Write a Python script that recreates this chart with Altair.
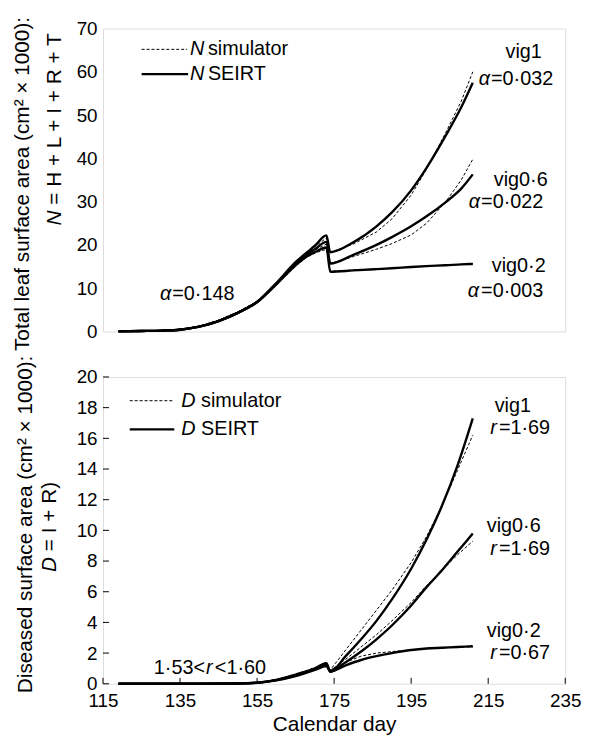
import altair as alt
import pandas as pd

FONT = "Liberation Sans"

# ---------------- top panel: total leaf surface area N (cm2 x 1000) ----------------
N_DAYS_PRE = [119, 125, 130, 135, 140, 145, 150, 155, 160, 165, 168, 170, 173]
N_SEIRT_VIG1_PRE = [0.0, 0.1, 0.2, 0.4, 1.1, 2.4, 4.3, 6.8, 11.2, 16.0, 18.3, 19.8, 22.2]
N_SEIRT_VIG06_PRE = [0.0, 0.1, 0.2, 0.4, 1.1, 2.4, 4.3, 6.8, 11.0, 15.6, 17.8, 19.0, 20.7]
N_SEIRT_VIG02_PRE = [0.0, 0.1, 0.2, 0.4, 1.1, 2.4, 4.3, 6.8, 10.9, 15.3, 17.4, 18.3, 19.4]
N_SIM_VIG1_PRE = [0.0, 0.1, 0.2, 0.5, 1.2, 2.6, 4.5, 6.9, 11.0, 15.8, 18.0, 19.6, 21.6]
N_SIM_VIG06_PRE = [0.0, 0.1, 0.2, 0.5, 1.2, 2.6, 4.5, 6.9, 10.9, 15.4, 17.6, 18.8, 20.2]
N_SIM_VIG02_PRE = [0.0, 0.1, 0.2, 0.5, 1.2, 2.6, 4.5, 6.9, 10.8, 15.1, 17.2, 18.1, 19.0]

N_DAYS_POST = [174, 180, 186, 190, 195, 199, 204, 208, 211]
N_SEIRT_VIG1_POST = [18.3, 20.6, 24.3, 27.5, 32.6, 37.8, 45.3, 51.8, 57.5]
N_SIM_VIG1_POST = [18.3, 20.2, 23.0, 26.0, 31.5, 37.5, 46.0, 53.2, 60.0]
N_SEIRT_VIG06_POST = [15.7, 17.7, 20.0, 21.8, 24.3, 26.6, 29.9, 33.0, 36.3]
N_SIM_VIG06_POST = [15.7, 17.3, 19.0, 20.3, 22.3, 25.0, 30.0, 35.0, 39.8]
N_SEIRT_VIG02_POST = [13.8, 14.1, 14.4, 14.6, 14.9, 15.1, 15.3, 15.5, 15.6]
N_SIM_VIG02_POST = [13.9, 14.2, 14.4, 14.6, 14.9, 15.1, 15.3, 15.5, 15.7]

# ---------------- bottom panel: diseased surface area D (cm2 x 1000) ----------------
D_DAYS_PRE = [119, 130, 140, 150, 155, 160, 165, 170, 173]
D_SEIRT_VIG1_PRE = [0.0, 0.0, 0.0, 0.02, 0.07, 0.25, 0.6, 1.0, 1.35]
D_SEIRT_VIG06_PRE = [0.0, 0.0, 0.0, 0.02, 0.07, 0.24, 0.55, 0.95, 1.25]
D_SEIRT_VIG02_PRE = [0.0, 0.0, 0.0, 0.02, 0.06, 0.22, 0.5, 0.9, 1.15]
D_SIM_VIG1_PRE = [0.0, 0.0, 0.0, 0.02, 0.08, 0.27, 0.62, 1.05, 1.4]
D_SIM_VIG06_PRE = [0.0, 0.0, 0.0, 0.02, 0.08, 0.26, 0.58, 0.98, 1.3]
D_SIM_VIG02_PRE = [0.0, 0.0, 0.0, 0.02, 0.07, 0.24, 0.54, 0.93, 1.2]

D_DAYS_POST = [174, 178, 182, 186, 190, 195, 199, 203, 207, 211]
D_SEIRT_VIG1_POST = [0.8, 1.8, 2.9, 4.1, 5.5, 7.5, 9.4, 11.6, 14.2, 17.3]
D_SIM_VIG1_POST = [0.9, 2.2, 3.5, 4.8, 6.1, 7.9, 9.6, 11.6, 13.9, 16.2]
D_SEIRT_VIG06_POST = [0.8, 1.4, 2.1, 2.9, 3.8, 5.1, 6.3, 7.4, 8.6, 9.8]
D_SIM_VIG06_POST = [0.85, 1.6, 2.4, 3.2, 4.1, 5.3, 6.4, 7.4, 8.4, 9.3]
D_SEIRT_VIG02_POST = [0.8, 1.2, 1.55, 1.8, 2.0, 2.2, 2.3, 2.35, 2.4, 2.45]
D_SIM_VIG02_POST = [0.9, 1.4, 1.8, 2.0, 2.1, 2.2, 2.3, 2.35, 2.4, 2.4]

X_TICKS = [115, 135, 155, 175, 195, 215, 235]
N_TICKS = [0, 10, 20, 30, 40, 50, 60, 70]
D_TICKS = [0, 2, 4, 6, 8, 10, 12, 14, 16, 18, 20]


def build(days_pre, days_post, series):
    rows = []
    for (name, model), (pre, post) in series.items():
        for d, v in zip(days_pre + days_post, pre + post):
            rows.append({"day": d, "value": v, "key": name + "_" + model, "model": model})
    return pd.DataFrame(rows)


df_n = build(N_DAYS_PRE, N_DAYS_POST, {
    ("vig1", "SEIRT"): (N_SEIRT_VIG1_PRE, N_SEIRT_VIG1_POST),
    ("vig06", "SEIRT"): (N_SEIRT_VIG06_PRE, N_SEIRT_VIG06_POST),
    ("vig02", "SEIRT"): (N_SEIRT_VIG02_PRE, N_SEIRT_VIG02_POST),
    ("vig1", "sim"): (N_SIM_VIG1_PRE, N_SIM_VIG1_POST),
    ("vig06", "sim"): (N_SIM_VIG06_PRE, N_SIM_VIG06_POST),
    ("vig02", "sim"): (N_SIM_VIG02_PRE, N_SIM_VIG02_POST),
})
df_d = build(D_DAYS_PRE, D_DAYS_POST, {
    ("vig1", "SEIRT"): (D_SEIRT_VIG1_PRE, D_SEIRT_VIG1_POST),
    ("vig06", "SEIRT"): (D_SEIRT_VIG06_PRE, D_SEIRT_VIG06_POST),
    ("vig02", "SEIRT"): (D_SEIRT_VIG02_PRE, D_SEIRT_VIG02_POST),
    ("vig1", "sim"): (D_SIM_VIG1_PRE, D_SIM_VIG1_POST),
    ("vig06", "sim"): (D_SIM_VIG06_PRE, D_SIM_VIG06_POST),
    ("vig02", "sim"): (D_SIM_VIG02_PRE, D_SIM_VIG02_POST),
})

ONE = pd.DataFrame({"_": [0]})


def txt(s, x, y, align="left", italic=False, size=20, angle=0):
    kw = dict(text=s, align=align, baseline="middle", font=FONT, fontSize=size,
              color="black")
    if italic:
        kw["fontStyle"] = "italic"
    if angle:
        kw["angle"] = angle
    return alt.Chart(ONE).mark_text(**kw).encode(x=alt.value(x), y=alt.value(y))


def seg(x1, x2, y, dashed):
    kw = dict(color="black", strokeWidth=1.0 if dashed else 2.4)
    if dashed:
        kw["strokeDash"] = [3, 2]
    return alt.Chart(ONE).mark_rule(**kw).encode(
        x=alt.value(x1), x2=alt.value(x2), y=alt.value(y))


def lines(df, ydom, yticks, show_x):
    xs = alt.Scale(domain=[115, 235], nice=False, zero=False)
    ys = alt.Scale(domain=ydom, nice=False)
    if show_x:
        xax = alt.Axis(values=X_TICKS, ticks=False, domain=False, grid=False,
                       labelFontSize=19, labelFont=FONT, labelColor="black",
                       labelPadding=8, labelFlush=False, labelOverlap=False,
                       title="Calendar day", titleFont=FONT, titleFontSize=21,
                       titleFontWeight="normal", titleColor="black", titlePadding=3)
    else:
        xax = None
    yax = alt.Axis(values=yticks, ticks=False, domain=False, grid=False,
                   labelFontSize=19, labelFont=FONT, labelColor="black",
                   labelPadding=6, labelOverlap=False, labelBound=False, title=None)
    solid = alt.Chart(df).transform_filter(alt.datum.model == "SEIRT").mark_line(
        color="black", strokeWidth=2.4, interpolate="monotone").encode(
        x=alt.X("day:Q", scale=xs, axis=xax),
        y=alt.Y("value:Q", scale=ys, axis=yax),
        detail="key:N")
    dashed = alt.Chart(df).transform_filter(alt.datum.model == "sim").mark_line(
        color="black", strokeWidth=1.0, strokeDash=[3, 2]).encode(
        x=alt.X("day:Q", scale=xs, axis=xax),
        y=alt.Y("value:Q", scale=ys, axis=yax),
        detail="key:N")
    return solid, dashed, xs, ys, xax, yax


# ---------------- top panel ----------------
W, HT, HB = 467, 306, 310
s1, d1, xs1, ys1, xax1, yax1 = lines(df_n, [0, 70], N_TICKS, False)
top = alt.layer(
    s1, d1,
    seg(39, 85, 21, True), seg(39, 86, 46, False),
    txt("N", 88, 21, italic=True), txt("simulator", 106, 21),
    txt("N", 88, 46, italic=True), txt("SEIRT", 106, 46),
    txt("vig1", 425, 24, align="center"),
    txt("α", 391, 51, align="right", italic=True), txt("=0·032", 392, 51),
    txt("vig0·6", 422, 153, align="center"),
    txt("α", 381, 175, align="right", italic=True), txt("=0·022", 382, 175),
    txt("vig0·2", 420, 240, align="center"),
    txt("α", 380, 265, align="right", italic=True), txt("=0·003", 382, 265),
    txt("α", 69, 268, align="right", italic=True), txt("=0·148", 70, 268),
    txt("Total leaf surface area (cm² × 1000):", -81, 157, align="center", size=21, angle=270),
    txt("N", -48, 199, italic=True, size=21, angle=270),
    txt("= H + L + I + R + T", -48, 178, size=21, angle=270),
).properties(width=W, height=HT)

# ---------------- bottom panel ----------------
s2, d2, xs2, ys2, xax2, yax2 = lines(df_d, [0, 20], D_TICKS, True)
xt = alt.Chart(pd.DataFrame({"t": X_TICKS})).mark_rule(color="black", strokeWidth=1).encode(
    x=alt.X("t:Q", scale=xs2, axis=xax2), y=alt.value(HB), y2=alt.value(HB - 6))
yt = alt.Chart(pd.DataFrame({"t": D_TICKS})).mark_rule(color="black", strokeWidth=1).encode(
    y=alt.Y("t:Q", scale=ys2, axis=yax2), x=alt.value(0), x2=alt.value(6))
bottom = alt.layer(
    s2, d2, xt, yt,
    seg(27, 72, 24, True), seg(27, 72, 53, False),
    txt("D", 79, 24, italic=True), txt("simulator", 99, 24),
    txt("D", 79, 53, italic=True), txt("SEIRT", 99, 53),
    txt("vig1", 414, 29, align="center"),
    txt("r", 398, 52, align="right", italic=True), txt("=1·69", 400, 52),
    txt("vig0·6", 415, 151, align="center"),
    txt("r", 398, 174, align="right", italic=True), txt("=1·69", 400, 174),
    txt("vig0·2", 415, 257, align="center"),
    txt("r", 398, 279, align="right", italic=True), txt("=0·67", 400, 279),
    txt("1·53<", 103, 294, align="right"), txt("r", 104, 294, italic=True),
    txt("<1·60", 113, 294),
    txt("Diseased surface area (cm² × 1000):", -78, 149, align="center", size=21, angle=270),
    txt("D", -53, 197, italic=True, size=21, angle=270),
    txt("= I + R)", -53, 176, size=21, angle=270),
).properties(width=W, height=HB)

chart = alt.vconcat(top, bottom, spacing=2).properties(
    padding={"left": 3, "top": 4, "right": 5, "bottom": 0}
).configure_view(stroke="black", strokeWidth=1.5).configure(background="white")

chart.save("out.html", embed_options={"renderer": "svg", "actions": False})
